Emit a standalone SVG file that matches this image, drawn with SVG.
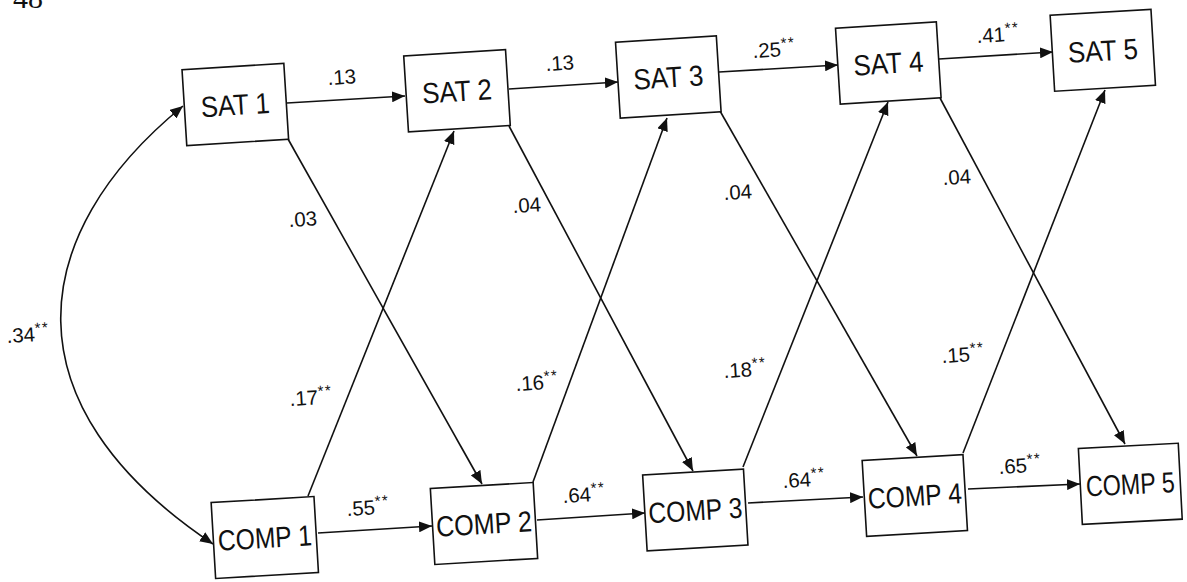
<svg xmlns="http://www.w3.org/2000/svg" width="1187" height="582" viewBox="0 0 1187 582">
<style>
.box{fill:#fff;stroke:#111;stroke-width:1.6}
.nt{font-family:"Liberation Sans",Arial,sans-serif;font-size:29px;fill:#111;text-anchor:middle}
.lb{font-family:"Liberation Sans",Arial,sans-serif;font-size:20.5px;fill:#111}
.st{font-size:15px;letter-spacing:1.5px}
.ln{fill:none;stroke:#111;stroke-width:1.6}
.ar{marker-end:url(#ah)}
</style>
<defs>
<marker id="ah" viewBox="0 0 13 11" refX="13" refY="5.5" markerWidth="13" markerHeight="11" markerUnits="userSpaceOnUse" orient="auto-start-reverse">
<path d="M0,0 L13,5.5 L0,11 z" fill="#111"/>
</marker>
</defs>
<rect width="1187" height="582" fill="#fff"/>
<text x="13" y="8" style="font-family:'Liberation Serif',serif;font-size:30px;fill:#111">48</text>
<g id="connectors">
<path class="ln ar" d="M287,103 L405,96"/>
<path class="ln ar" d="M509,89 L618,82"/>
<path class="ln ar" d="M719,72 L838,65"/>
<path class="ln ar" d="M939,59 L1053,52"/>
<path class="ln ar" d="M318,533 L432,526"/>
<path class="ln ar" d="M537,520 L645,513"/>
<path class="ln ar" d="M748,503 L863,497"/>
<path class="ln ar" d="M968,489 L1080,484"/>
<path class="ln ar" d="M288,139 L482,484"/>
<path class="ln ar" d="M509,126 L693,471"/>
<path class="ln ar" d="M720,111 L917,456"/>
<path class="ln ar" d="M940,98 L1125,444"/>
<path class="ln ar" d="M308,496 L454,131"/>
<path class="ln ar" d="M533,482 L667,118"/>
<path class="ln ar" d="M743,467 L888,102"/>
<path class="ln ar" d="M963,453 L1105,90"/>
<path class="ln ar" style="marker-start:url(#ah)" d="M183,106 C25,235 5,405 213,544"/>
</g>
<g id="labels">
<text class="lb" x="328" y="85" transform="rotate(-3.5 328 85)">.13</text>
<text class="lb" x="546" y="71" transform="rotate(-3.5 546 71)">.13</text>
<text class="lb" x="753" y="58" transform="rotate(-3.5 753 58)">.25<tspan class="st" dy="-8">**</tspan></text>
<text class="lb" x="977" y="43" transform="rotate(-3.5 977 43)">.41<tspan class="st" dy="-8">**</tspan></text>
<text class="lb" x="347" y="516" transform="rotate(-3.5 347 516)">.55<tspan class="st" dy="-8">**</tspan></text>
<text class="lb" x="563" y="503" transform="rotate(-3.5 563 503)">.64<tspan class="st" dy="-8">**</tspan></text>
<text class="lb" x="783" y="488" transform="rotate(-3.5 783 488)">.64<tspan class="st" dy="-8">**</tspan></text>
<text class="lb" x="999" y="474" transform="rotate(-3.5 999 474)">.65<tspan class="st" dy="-8">**</tspan></text>
<text class="lb" x="289" y="227" transform="rotate(-3.5 289 227)">.03</text>
<text class="lb" x="513" y="213" transform="rotate(-3.5 513 213)">.04</text>
<text class="lb" x="724" y="200" transform="rotate(-3.5 724 200)">.04</text>
<text class="lb" x="943" y="185" transform="rotate(-3.5 943 185)">.04</text>
<text class="lb" x="290" y="406" transform="rotate(-3.5 290 406)">.17<tspan class="st" dy="-8">**</tspan></text>
<text class="lb" x="516" y="391" transform="rotate(-3.5 516 391)">.16<tspan class="st" dy="-8">**</tspan></text>
<text class="lb" x="724" y="378" transform="rotate(-3.5 724 378)">.18<tspan class="st" dy="-8">**</tspan></text>
<text class="lb" x="942" y="363" transform="rotate(-3.5 942 363)">.15<tspan class="st" dy="-8">**</tspan></text>
<text class="lb" x="7" y="343" transform="rotate(-3.5 7 343)">.34<tspan class="st" dy="-8">**</tspan></text>
</g>
<g id="sat1" transform="rotate(-3.6 235.3 104.5)"><rect class="box" x="184.3" y="66.5" width="102" height="76"/><text class="nt" x="235.3" y="115" textLength="69" lengthAdjust="spacingAndGlyphs">SAT 1</text></g>
<g id="sat2" transform="rotate(-3.6 457 90.8)"><rect class="box" x="406" y="52.8" width="102" height="76"/><text class="nt" x="457" y="101.3" textLength="70" lengthAdjust="spacingAndGlyphs">SAT 2</text></g>
<g id="sat3" transform="rotate(-3.6 668.3 77)"><rect class="box" x="617.8" y="39" width="101" height="76"/><text class="nt" x="668.3" y="87.5" textLength="70" lengthAdjust="spacingAndGlyphs">SAT 3</text></g>
<g id="sat4" transform="rotate(-3.6 888.3 63)"><rect class="box" x="837.8" y="25" width="101" height="76"/><text class="nt" x="888.3" y="73.5" textLength="70" lengthAdjust="spacingAndGlyphs">SAT 4</text></g>
<g id="sat5" transform="rotate(-3.4 1102.8 50.3)"><rect class="box" x="1052.3" y="12.3" width="101" height="76"/><text class="nt" x="1102.8" y="60.8" textLength="70" lengthAdjust="spacingAndGlyphs">SAT 5</text></g>
<g id="comp1" transform="rotate(-3.4 264.8 537.5)"><rect class="box" x="213.3" y="499.5" width="103" height="76"/><text class="nt" x="264.8" y="548" textLength="94" lengthAdjust="spacingAndGlyphs">COMP 1</text></g>
<g id="comp2" transform="rotate(-3.4 484 523.5)"><rect class="box" x="432.5" y="485.5" width="103" height="76"/><text class="nt" x="484" y="534" textLength="96" lengthAdjust="spacingAndGlyphs">COMP 2</text></g>
<g id="comp3" transform="rotate(-3.4 695.3 510)"><rect class="box" x="644.8" y="472" width="101" height="76"/><text class="nt" x="695.3" y="520.5" textLength="94" lengthAdjust="spacingAndGlyphs">COMP 3</text></g>
<g id="comp4" transform="rotate(-3.4 914.8 495.5)"><rect class="box" x="864.3" y="457.5" width="101" height="76"/><text class="nt" x="914.8" y="506" textLength="94" lengthAdjust="spacingAndGlyphs">COMP 4</text></g>
<g id="comp5" transform="rotate(-3.0 1130.3 483.8)"><rect class="box" x="1080.3" y="445.8" width="100" height="76"/><text class="nt" x="1130.3" y="494.3" textLength="89" lengthAdjust="spacingAndGlyphs">COMP 5</text></g>
</svg>
